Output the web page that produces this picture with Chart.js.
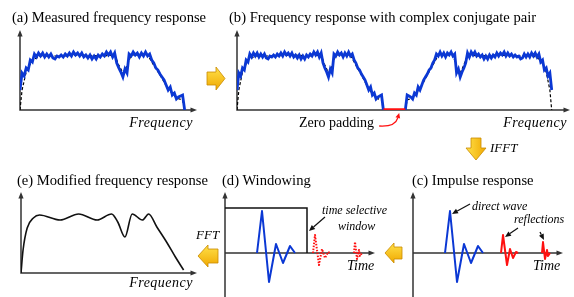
<!DOCTYPE html>
<html><head><meta charset="utf-8">
<script src="https://cdn.jsdelivr.net/npm/chart.js@4"></script>
<style>
html,body{margin:0;padding:0;background:#fff;}
#root{position:relative;width:574px;height:297px;overflow:hidden;font-family:"Liberation Serif","Times New Roman",serif;color:#000;}
.box{position:absolute;}
.t{position:absolute;white-space:nowrap;font-size:14px;line-height:14px;}
.h{font-size:14.6px;}
.i{font-style:italic;}
svg{position:absolute;left:0;top:0;}
</style></head><body>
<div id="root">
<svg width="574" height="297">
 <defs><linearGradient id="g" x1="0" y1="0" x2="0" y2="1"><stop offset="0" stop-color="#ffe14a"/><stop offset="1" stop-color="#f0a800"/></linearGradient>
 <linearGradient id="gh" x1="0" y1="0" x2="1" y2="0"><stop offset="0" stop-color="#ffe14a"/><stop offset="1" stop-color="#f0a800"/></linearGradient></defs>
 <polygon points="207,72 216,72 216,67 225,78.5 216,90 216,85 207,85" fill="url(#g)" stroke="#c98a00" stroke-width="0.8"/>
 <polygon points="471,138 481,138 481,148 486,148 476,160 466,148 471,148" fill="url(#gh)" stroke="#c98a00" stroke-width="0.8"/>
 <polygon points="402,247 394,247 394,243 385,253 394,263 394,259 402,259" fill="url(#g)" stroke="#c98a00" stroke-width="0.8"/>
 <polygon points="218,249 208,249 208,245 198,256 208,267 208,263 218,263" fill="url(#g)" stroke="#c98a00" stroke-width="0.8"/>
</svg>
<div class="box" style="left:10px;top:20px;"><canvas id="ca" width="197" height="100"></canvas></div>
<div class="box" style="left:227px;top:20px;"><canvas id="cb" width="346" height="110"></canvas></div>
<div class="box" style="left:11px;top:182px;"><canvas id="ce" width="196" height="101"></canvas></div>
<div class="box" style="left:215px;top:182px;"><canvas id="cd" width="170" height="115"></canvas></div>
<div class="box" style="left:403px;top:182px;"><canvas id="cc" width="170" height="115"></canvas></div>

<div class="t h" style="left:12px;top:10px;">(a) Measured frequency response</div>
<div class="t h" style="left:229px;top:10px;">(b) Frequency response with complex conjugate pair</div>
<div class="t i" style="right:381px;top:116px;letter-spacing:0.5px;">Frequency</div>
<div class="t i" style="right:7px;top:116px;letter-spacing:0.5px;">Frequency</div>
<div class="t" style="left:299px;top:116px;">Zero padding</div>
<div class="t i" style="left:490px;top:141px;font-size:13px;">IFFT</div>
<div class="t h" style="left:17px;top:173px;">(e) Modified frequency response</div>
<div class="t h" style="left:222px;top:173px;">(d) Windowing</div>
<div class="t h" style="left:412px;top:173px;">(c) Impulse response</div>
<div class="t i" style="left:196px;top:228px;font-size:13px;">FFT</div>
<div class="t i" style="left:322px;top:203px;font-size:12px;">time selective</div>
<div class="t i" style="left:338px;top:219px;font-size:12px;">window</div>
<div class="t i" style="left:472px;top:199px;font-size:12px;">direct wave</div>
<div class="t i" style="left:514px;top:212px;font-size:12px;">reflections</div>
<div class="t i" style="left:533px;top:259px;">Time</div>
<div class="t i" style="left:347px;top:259px;">Time</div>
<div class="t i" style="right:381px;top:276px;letter-spacing:0.5px;">Frequency</div>
</div>
<script>
// ---- data ----
const measuredMag = [20,37,34,42,40,50,48,56,53,57,54,57,53,56,53,56,52,51,54,53,55,53,56,54,57,54,58,55,57,54,57,53,55,52,55,51,54,51,55,53,56,54,58,55,58,53,57,47,42,38,33,41,37,56,54,58,55,57,53,57,54,58,54,56,50,47,42,40,36,33,30,25,20,23,15,17,11,13,14,15,0];
const trendIdx = [0,1,3,6,10,20,30,40,46,48,50,52,54,62,64,68,72,76,79,80];
const trendMag = [0,20,38,50,54,54,55,54,55,45,37,44,55,55,48,35,21,12,10,0];
const paddingLength = 12;
const smoothIdx = [0,1,3,6,9,19,28,37,44,47,50.5,54,59,62,66,71,75,79];
const smoothMag = [0,23,45,55,58,53,59,53,59,51,36,59,53,59,46,30,16,3];
const impulseTime = [32,37,44,51,58,65,70];
const impulseAmp = [0,42,-29,9,-10,7,0];
const refl1Time = [88,90,94,97,100,103,105];
const refl1Amp = [0,18,-12,4,-5,1,0];
const refl2Time = [129,130,132,134,135,137];
const refl2Amp = [0,11,-6,3,-3,0];
const windowTime = [0,82,82];
const windowLevel = [45,45,0];

const BLUE = '#0b38d4', RED = '#ff1010', AX = '#333';
const pts = (xs, ys) => xs.map((x,i)=>({x, y: ys[i]}));

const nM = measuredMag.length - 1;
const mirrorStart = nM + paddingLength;
const specIdx = [], specMag = [];
measuredMag.forEach((v,i)=>{specIdx.push(i); specMag.push(v);});
specIdx.push(nM+0.5); specMag.push(null);
for (let k = nM; k >= 0; k--) { specIdx.push(mirrorStart + (nM-k)); specMag.push(measuredMag[k]); }
const specTrendIdx = trendIdx.slice(), specTrendMag = trendMag.slice();
specTrendIdx.push(nM+0.5); specTrendMag.push(null);
for (let k = trendIdx.length-1; k >= 0; k--) { specTrendIdx.push(mirrorStart + (nM - trendIdx[k])); specTrendMag.push(trendMag[k]); }
const padIdx = [nM, mirrorStart], padMag = [0, 0];

const FULL_Y = { cc: true, cd: true };
const POINTERS = {
  cb: [{ x: nM + paddingLength*0.72, y: 0, oy: 3, dx: -20, dy: 13, curve: [16, 1], color: RED, w: 1.3, L: 5, W: 2.4 }],
  cd: [{ x: windowTime[1], y: 22, ox: 2, dx: 16, dy: -14, color: '#111' }],
  cc: [
    { x: impulseTime[1], y: impulseAmp[1], ox: 2, oy: 3, dx: 18, dy: -10, color: '#111' },
    { x: refl1Time[1], y: refl1Amp[1], ox: 2, oy: 2, dx: 13, dy: -9, color: '#111' },
    { x: refl2Time[1], y: refl2Amp[1], ox: 1, oy: -2, dx: -4, dy: -8, color: '#111' }
  ]
};

const axesPlugin = {
  id: 'arrowAxes',
  beforeDatasetsDraw(chart) {
    const full = !!FULL_Y[chart.canvas.id];
    const {ctx, chartArea:a, scales:{x,y}} = chart;
    const y0 = y.getPixelForValue(0), x0 = a.left;
    ctx.save();
    ctx.strokeStyle = AX; ctx.fillStyle = AX; ctx.lineWidth = 1.5;
    ctx.beginPath();
    ctx.moveTo(x0, full ? chart.height : y0 + 0.75);
    ctx.lineTo(x0, a.top + 5);
    ctx.moveTo(x0, y0); ctx.lineTo(a.right - 5, y0);
    ctx.stroke();
    ctx.beginPath(); ctx.moveTo(x0, a.top); ctx.lineTo(x0-2.6, a.top+6.5); ctx.lineTo(x0+2.6, a.top+6.5); ctx.closePath(); ctx.fill();
    ctx.beginPath(); ctx.moveTo(a.right, y0); ctx.lineTo(a.right-6.5, y0-2.6); ctx.lineTo(a.right-6.5, y0+2.6); ctx.closePath(); ctx.fill();
    ctx.restore();
  }
};
const pointerPlugin = {
  id: 'pointers',
  afterDatasetsDraw(chart) {
    const list = POINTERS[chart.canvas.id]; if (!list) return;
    const {ctx, scales:{x,y}} = chart;
    list.forEach(p => {
      const tx = x.getPixelForValue(p.x) + (p.ox||0), ty = y.getPixelForValue(p.y) + (p.oy||0);
      const sx = tx + p.dx, sy = ty + p.dy;
      ctx.save(); ctx.strokeStyle = p.color; ctx.fillStyle = p.color; ctx.lineWidth = p.w || 1.2;
      let ang, cx, cy;
      if (p.curve) { cx = sx + p.curve[0]; cy = sy + p.curve[1]; ang = Math.atan2(ty-cy, tx-cx); }
      else { ang = Math.atan2(ty-sy, tx-sx); }
      const L = p.L || 6, W = p.W || 2.6;
      const bx = tx - L*Math.cos(ang), by = ty - L*Math.sin(ang);
      ctx.beginPath(); ctx.moveTo(sx, sy);
      if (p.curve) ctx.quadraticCurveTo(cx, cy, bx, by); else ctx.lineTo(bx, by);
      ctx.stroke();
      ctx.beginPath(); ctx.moveTo(tx, ty);
      ctx.lineTo(bx + W*Math.sin(ang), by - W*Math.cos(ang));
      ctx.lineTo(bx - W*Math.sin(ang), by + W*Math.cos(ang));
      ctx.closePath(); ctx.fill(); ctx.restore();
    });
  }
};
Chart.register(axesPlugin, pointerPlugin);

function make(id, datasets, xr, yr, pad) {
  return new Chart(document.getElementById(id), {
    type: 'line',
    data: { datasets },
    options: {
      responsive: false, animation: false, devicePixelRatio: 1,
      layout: { padding: pad },
      elements: { point: { radius: 0 }, line: { tension: 0, borderJoinStyle: 'miter', borderCapStyle: 'butt' } },
      scales: {
        x: { type: 'linear', min: xr[0], max: xr[1], display: false },
        y: { type: 'linear', min: yr[0], max: yr[1], display: false }
      },
      plugins: { legend: { display: false }, tooltip: { enabled: false } }
    }
  });
}

// (a)
make('ca', [
  { data: pts(measuredMag.map((_,i)=>i), measuredMag), borderColor: BLUE, borderWidth: 2.8, order: 1 },
  { data: pts(trendIdx, trendMag), borderColor: '#000', borderWidth: 1.2, borderDash: [3,2], order: 2 }
], [0, 86], [0, 80], {left:10, top:10, right:10, bottom:10});

// (b)
make('cb', [
  { data: pts(padIdx, padMag), borderColor: RED, borderWidth: 3.5, order: 0 },
  { data: pts(specIdx, specMag), borderColor: BLUE, borderWidth: 2.8, order: 1, spanGaps: false },
  { data: pts(specTrendIdx, specTrendMag), borderColor: '#000', borderWidth: 1.2, borderDash: [3,2], order: 2, spanGaps: false }
], [0, 182], [0, 80], {left:10, top:10, right:3, bottom:20});

// (e)
make('ce', [
  { data: pts(smoothIdx, smoothMag), borderColor: '#111', borderWidth: 1.6, cubicInterpolationMode: 'monotone', borderJoinStyle: 'round' }
], [0, 85.5], [0, 81], {left:10, top:10, right:10, bottom:10});

// (d)
make('cd', [
  { data: pts(windowTime, windowLevel), borderColor: '#111', borderWidth: 1.5, order: 0 },
  { data: pts(impulseTime, impulseAmp), borderColor: BLUE, borderWidth: 2, borderJoinStyle: 'round', order: 1 },
  { data: pts(refl1Time, refl1Amp), borderColor: RED, borderWidth: 2, borderDash: [1.5,1.5], borderJoinStyle: 'round', order: 2 },
  { data: pts(refl2Time, refl2Amp), borderColor: RED, borderWidth: 2, borderDash: [1.5,1.5], borderJoinStyle: 'round', order: 2 }
], [0, 150], [-44, 61], {left:10, top:10, right:10, bottom:0});

// (c)
make('cc', [
  { data: pts(impulseTime, impulseAmp), borderColor: BLUE, borderWidth: 2, borderJoinStyle: 'round' },
  { data: pts(refl1Time, refl1Amp), borderColor: RED, borderWidth: 2, borderJoinStyle: 'round' },
  { data: pts(refl2Time, refl2Amp), borderColor: RED, borderWidth: 2, borderJoinStyle: 'round' }
], [0, 150], [-44, 61], {left:10, top:10, right:10, bottom:0});
</script>
</body></html>
